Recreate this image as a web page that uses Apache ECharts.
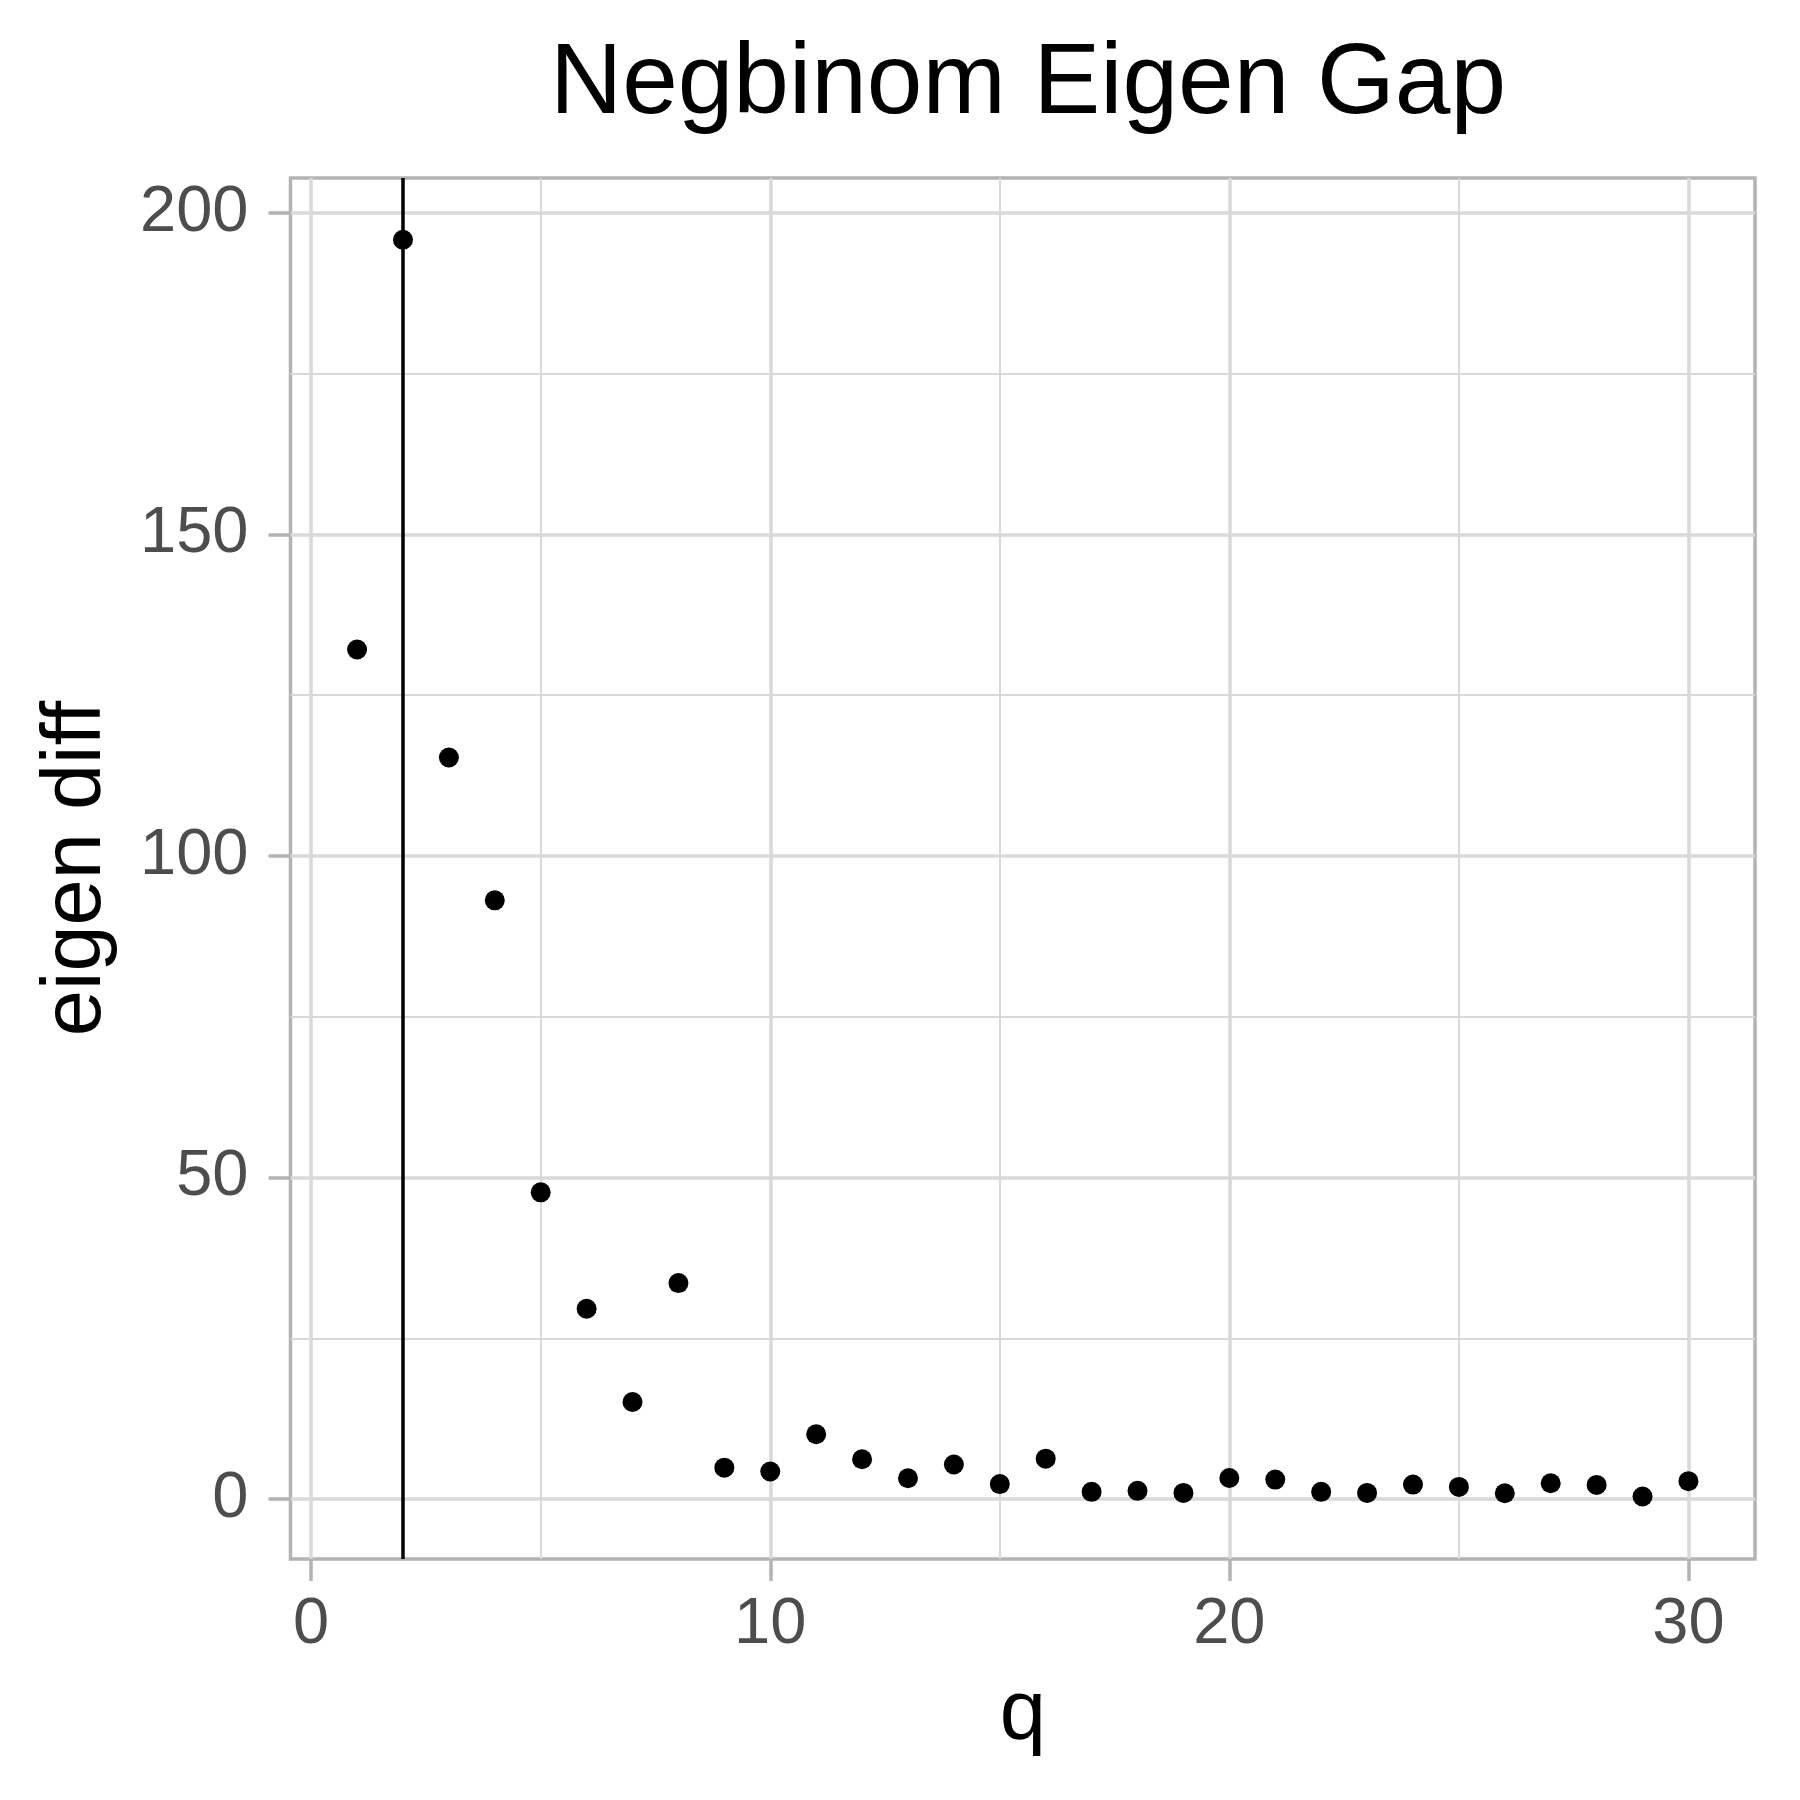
<!DOCTYPE html>
<html>
<head>
<meta charset="utf-8">
<script src="https://cdn.jsdelivr.net/npm/echarts@6/dist/echarts.min.js"></script>
<style>html,body{margin:0;padding:0;background:#fff}#c{width:1800px;height:1800px}</style>
</head>
<body>
<div id="c"></div>
<script>
const qValues = [1,2,3,4,5,6,7,8,9,10,11,12,13,14,15,16,17,18,19,20,21,22,23,24,25,26,27,28,29,30];
const eigenDiff = [132.1,195.8,115.3,93.1,47.7,29.6,15.1,33.6,4.9,4.3,10.1,6.2,3.25,5.4,2.35,6.3,1.14,1.3,0.98,3.3,3.05,1.14,0.98,2.27,1.91,0.93,2.48,2.22,0.41,2.8];
const vlineX = [2];
const xMajorTicks = [0,10,20,30];
const xMinorTicks = [5,15,25];
const yMajorTicks = [0,50,100,150,200];
const yMinorTicks = [25,75,125,175];

const FONT = "'Liberation Sans', Arial, sans-serif";
const xMin = -0.45, xMax = 31.45, yMin = -9.3, yMax = 205.4;
const gridCol = '#d9d9d9', frameCol = '#b3b3b3';

const chart = echarts.init(document.getElementById('c'), null, {renderer: 'canvas'});
const baseX = {type: 'value', min: xMin, max: xMax, gridIndex: 0, position: 'bottom'};
const baseY = {type: 'value', min: yMin, max: yMax, gridIndex: 0, position: 'left'};
chart.setOption({
  animation: false,
  backgroundColor: '#ffffff',
  title: {
    text: 'Negbinom Eigen Gap',
    left: 1023, top: 30, textAlign: 'center',
    textStyle: {fontFamily: FONT, fontSize: 100, fontWeight: 'normal', color: '#000'}
  },
  grid: {left: 290.5, right: 45, top: 178, bottom: 241, show: true,
         borderColor: frameCol, borderWidth: 3.5, backgroundColor: 'transparent'},
  xAxis: [
    Object.assign({}, baseX, {
      axisLine: {show: false, onZero: false},
      axisTick: {show: true, inside: false, length: 22, lineStyle: {color: frameCol, width: 3.5}, customValues: xMajorTicks},
      axisLabel: {show: true, customValues: xMajorTicks, margin: 34, fontFamily: FONT, fontSize: 65, color: '#4d4d4d'},
      splitLine: {show: true, lineStyle: {color: gridCol, width: 3.5}},
      name: 'q', nameLocation: 'middle', nameGap: 116,
      nameTextStyle: {fontFamily: FONT, fontSize: 83, color: '#000'}
    }),
    Object.assign({}, baseX, {
      axisLine: {show: false, onZero: false},
      axisTick: {show: false, customValues: xMinorTicks},
      axisLabel: {show: false, customValues: xMinorTicks},
      splitLine: {show: true, lineStyle: {color: gridCol, width: 2}}
    })
  ],
  yAxis: [
    Object.assign({}, baseY, {
      axisLine: {show: false, onZero: false},
      axisTick: {show: true, inside: false, length: 22, lineStyle: {color: frameCol, width: 3.5}, customValues: yMajorTicks},
      axisLabel: {show: true, customValues: yMajorTicks, margin: 42, fontFamily: FONT, fontSize: 65, color: '#4d4d4d'},
      splitLine: {show: true, lineStyle: {color: gridCol, width: 3.5}},
      name: 'eigen diff', nameLocation: 'middle', nameGap: 172, nameRotate: 90,
      nameTextStyle: {fontFamily: FONT, fontSize: 83, color: '#000'}
    }),
    Object.assign({}, baseY, {
      axisLine: {show: false, onZero: false},
      axisTick: {show: false, customValues: yMinorTicks},
      axisLabel: {show: false, customValues: yMinorTicks},
      splitLine: {show: true, lineStyle: {color: gridCol, width: 2}}
    })
  ],
  series: [{
    type: 'scatter',
    xAxisIndex: 0, yAxisIndex: 0,
    data: qValues.map((q, i) => [q, eigenDiff[i]]),
    symbol: 'circle', symbolSize: 20,
    itemStyle: {color: '#000', opacity: 1},
    markLine: {
      silent: true, symbol: ['none', 'none'],
      label: {show: false},
      lineStyle: {color: '#000', width: 3.5, type: 'solid', opacity: 1},
      data: vlineX.map(v => ({xAxis: v}))
    },
    z: 3
  }]
});
</script>
</body>
</html>
